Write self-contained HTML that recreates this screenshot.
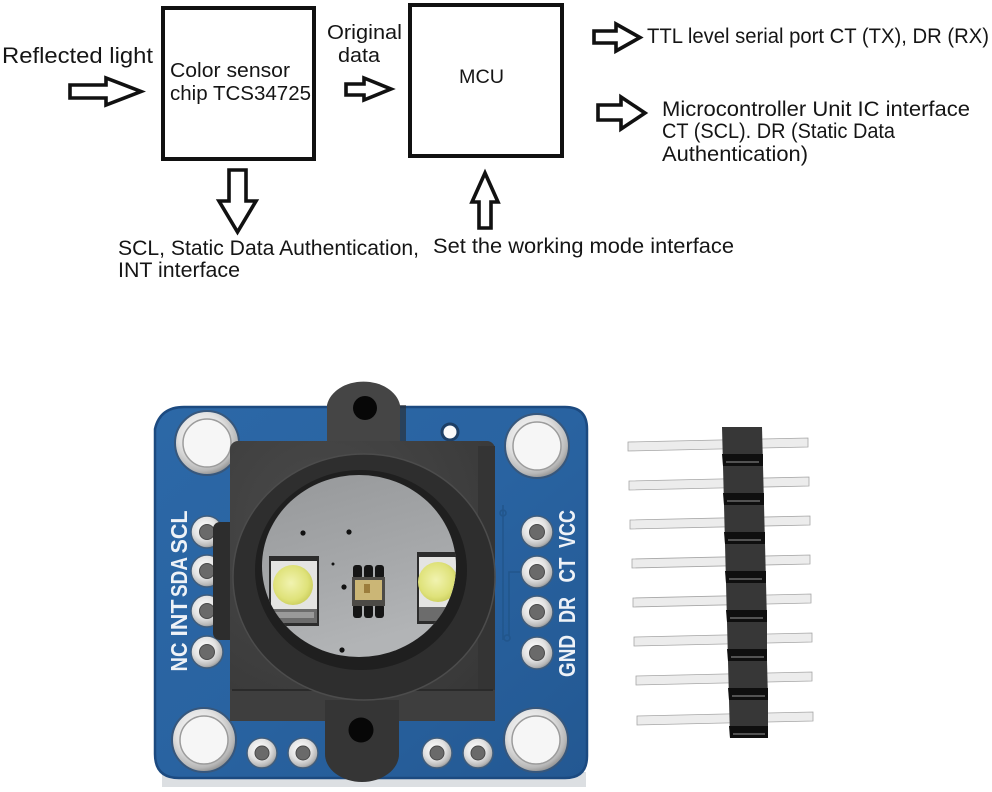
<!DOCTYPE html>
<html>
<head>
<meta charset="utf-8">
<style>
  html,body{margin:0;padding:0;background:#fff;}
  svg{display:block;}
  .t{font-family:"Liberation Sans",sans-serif;fill:#151515;}
  .lb{font-family:"Liberation Sans",sans-serif;font-weight:bold;fill:#eef2f7;font-size:23px;}
</style>
</head>
<body>
<svg width="992" height="792" viewBox="0 0 992 792" xmlns="http://www.w3.org/2000/svg">
  <defs>
    <linearGradient id="board" x1="0" y1="0" x2="1" y2="1">
      <stop offset="0" stop-color="#2c68a7"/>
      <stop offset="0.5" stop-color="#2963a1"/>
      <stop offset="1" stop-color="#235892"/>
    </linearGradient>
    <radialGradient id="silv" cx="0.42" cy="0.38" r="0.65">
      <stop offset="0" stop-color="#ffffff"/>
      <stop offset="0.55" stop-color="#e2e2e2"/>
      <stop offset="0.85" stop-color="#b8b8b8"/>
      <stop offset="1" stop-color="#8a8a8a"/>
    </radialGradient>
    <linearGradient id="grey" x1="0" y1="0" x2="0.3" y2="1">
      <stop offset="0" stop-color="#96989a"/>
      <stop offset="0.6" stop-color="#a6a8aa"/>
      <stop offset="1" stop-color="#b2b4b6"/>
    </linearGradient>
    <radialGradient id="yel" cx="0.45" cy="0.45" r="0.6">
      <stop offset="0" stop-color="#f1f3b0"/>
      <stop offset="0.7" stop-color="#dfe27a"/>
      <stop offset="1" stop-color="#c9cc5a"/>
    </radialGradient>
    <radialGradient id="hous" cx="0.35" cy="0.3" r="0.9">
      <stop offset="0" stop-color="#4a4a4a"/>
      <stop offset="1" stop-color="#363636"/>
    </radialGradient>
    <clipPath id="gclip">
      <ellipse cx="359" cy="566" rx="97" ry="91"/>
    </clipPath>
  </defs>

  <!-- ===== Diagram ===== -->
  <g fill="none" stroke="#111" stroke-width="4">
    <rect x="163" y="8" width="151" height="151"/>
    <rect x="410" y="5" width="152" height="151"/>
  </g>
  <g fill="#fff" stroke="#111" stroke-width="3.6" stroke-linejoin="miter">
    <polygon points="70,85 106,85 106,78 141,91.5 106,105 106,98 70,98"/>
    <polygon points="346,84 364,84 364,78 391,89 364,100 364,95 346,95"/>
    <polygon points="229,170 246,170 246,201 256,201 237.5,232 219,201 229,201"/>
    <polygon points="485,173 498,202 491,202 491,228 479,228 479,202 472,202"/>
    <polygon points="594,31 616,31 616,24 640,37.5 616,51 616,43 594,43"/>
    <polygon points="598,105 621,105 621,97 645,113 621,129 621,120 598,120"/>
  </g>

  <text class="t" x="2" y="63" font-size="22" textLength="151" lengthAdjust="spacingAndGlyphs">Reflected light</text>
  <text class="t" x="170" y="77" font-size="20" textLength="120" lengthAdjust="spacingAndGlyphs">Color sensor</text>
  <text class="t" x="170" y="100" font-size="20" textLength="141" lengthAdjust="spacingAndGlyphs">chip TCS34725</text>
  <text class="t" x="327" y="39" font-size="20" textLength="75" lengthAdjust="spacingAndGlyphs">Original</text>
  <text class="t" x="338" y="62" font-size="20" textLength="42" lengthAdjust="spacingAndGlyphs">data</text>
  <text class="t" x="459" y="83" font-size="19" textLength="45" lengthAdjust="spacingAndGlyphs">MCU</text>
  <text class="t" x="118" y="255" font-size="21" textLength="301" lengthAdjust="spacingAndGlyphs">SCL, Static Data Authentication,</text>
  <text class="t" x="118" y="277" font-size="21" textLength="122" lengthAdjust="spacingAndGlyphs">INT interface</text>
  <text class="t" x="433" y="253" font-size="21" textLength="301" lengthAdjust="spacingAndGlyphs">Set the working mode interface</text>
  <text class="t" x="647" y="43" font-size="21" textLength="342" lengthAdjust="spacingAndGlyphs">TTL level serial port CT (TX), DR (RX)</text>
  <text class="t" x="662" y="116" font-size="21" textLength="308" lengthAdjust="spacingAndGlyphs">Microcontroller Unit IC interface</text>
  <text class="t" x="662" y="138" font-size="21" textLength="233" lengthAdjust="spacingAndGlyphs">CT (SCL). DR (Static Data</text>
  <text class="t" x="662" y="161" font-size="21" textLength="146" lengthAdjust="spacingAndGlyphs">Authentication)</text>

  <!-- ===== PCB ===== -->
  <polygon points="162,772 586,772 586,787 162,787" fill="#dcdfe2"/>
  <path d="M184,407 H565 Q587,407 587,429 V756 Q587,778 565,778 H179 Q155,778 155,754 V429 Q160,407 184,407 Z"
        fill="url(#board)" stroke="#1c4a80" stroke-width="2.5"/>

  <!-- traces -->
  <g fill="none" stroke="#22568c" stroke-width="1.6">
    <path d="M522,572 H509 V636"/>
    <path d="M503,505 V640"/>
    <circle cx="507" cy="638" r="3"/>
    <circle cx="503" cy="513" r="3"/>
  </g>

  <!-- big mounting holes -->
  <g>
    <circle cx="207" cy="443" r="32" fill="url(#silv)" stroke="#37577c" stroke-width="2"/>
    <circle cx="207" cy="443" r="24" fill="#f6f6f6" stroke="#9c9c9c" stroke-width="1.5"/>
    <circle cx="537" cy="446" r="32" fill="url(#silv)" stroke="#37577c" stroke-width="2"/>
    <circle cx="537" cy="446" r="24" fill="#f6f6f6" stroke="#9c9c9c" stroke-width="1.5"/>
    <circle cx="204" cy="740" r="32" fill="url(#silv)" stroke="#37577c" stroke-width="2"/>
    <circle cx="204" cy="740" r="24" fill="#f6f6f6" stroke="#9c9c9c" stroke-width="1.5"/>
    <circle cx="536" cy="740" r="32" fill="url(#silv)" stroke="#37577c" stroke-width="2"/>
    <circle cx="536" cy="740" r="24" fill="#f6f6f6" stroke="#9c9c9c" stroke-width="1.5"/>
  </g>

  <!-- small pin holes -->
  <g stroke="#3f5d7d" stroke-width="1.5">
    <circle cx="207" cy="532" r="16" fill="url(#silv)"/>
    <circle cx="207" cy="571" r="16" fill="url(#silv)"/>
    <circle cx="207" cy="611" r="16" fill="url(#silv)"/>
    <circle cx="207" cy="652" r="16" fill="url(#silv)"/>
    <circle cx="537" cy="532" r="16" fill="url(#silv)"/>
    <circle cx="537" cy="572" r="16" fill="url(#silv)"/>
    <circle cx="537" cy="612" r="16" fill="url(#silv)"/>
    <circle cx="537" cy="653" r="16" fill="url(#silv)"/>
    <circle cx="262" cy="753" r="15" fill="url(#silv)"/>
    <circle cx="303" cy="753" r="15" fill="url(#silv)"/>
    <circle cx="437" cy="753" r="15" fill="url(#silv)"/>
    <circle cx="478" cy="753" r="15" fill="url(#silv)"/>
  </g>
  <g fill="#6a6a6a" stroke="#4a4a4a" stroke-width="1">
    <circle cx="207" cy="532" r="7.5"/>
    <circle cx="207" cy="571" r="7.5"/>
    <circle cx="207" cy="611" r="7.5"/>
    <circle cx="207" cy="652" r="7.5"/>
    <circle cx="537" cy="532" r="7.5"/>
    <circle cx="537" cy="572" r="7.5"/>
    <circle cx="537" cy="612" r="7.5"/>
    <circle cx="537" cy="653" r="7.5"/>
    <circle cx="262" cy="753" r="7"/>
    <circle cx="303" cy="753" r="7"/>
    <circle cx="437" cy="753" r="7"/>
    <circle cx="478" cy="753" r="7"/>
  </g>
  <circle cx="450" cy="432" r="9.5" fill="#1d3f66"/>
  <circle cx="450" cy="432" r="6.5" fill="#fafafa"/>

  <!-- labels -->
  <text class="lb" text-anchor="middle" transform="translate(187,532) rotate(-90)" textLength="43" lengthAdjust="spacingAndGlyphs">SCL</text>
  <text class="lb" text-anchor="middle" transform="translate(187,577) rotate(-90)" textLength="40" lengthAdjust="spacingAndGlyphs">SDA</text>
  <text class="lb" text-anchor="middle" transform="translate(187,618) rotate(-90)" textLength="37" lengthAdjust="spacingAndGlyphs">INT</text>
  <text class="lb" text-anchor="middle" transform="translate(187,657) rotate(-90)" textLength="29" lengthAdjust="spacingAndGlyphs">NC</text>
  <text class="lb" text-anchor="middle" transform="translate(575,529) rotate(-90)" textLength="38" lengthAdjust="spacingAndGlyphs">VCC</text>
  <text class="lb" text-anchor="middle" transform="translate(575,570) rotate(-90)" textLength="25" lengthAdjust="spacingAndGlyphs">CT</text>
  <text class="lb" text-anchor="middle" transform="translate(575,610) rotate(-90)" textLength="26" lengthAdjust="spacingAndGlyphs">DR</text>
  <text class="lb" text-anchor="middle" transform="translate(575,656) rotate(-90)" textLength="42" lengthAdjust="spacingAndGlyphs">GND</text>

  <!-- housing -->
  <rect x="213" y="522" width="24" height="118" rx="7" fill="#2d2d2d"/>
  <rect x="396" y="405" width="10" height="40" fill="#2a2a2a" opacity="0.6"/>
  <path d="M327,446 V405 A37,28 0 0 1 400,405 V446 Z" fill="#454545"/>
  <rect x="230" y="441" width="265" height="280" rx="8" fill="url(#hous)"/>
  <rect x="478" y="446" width="17" height="272" fill="#343434"/>
  <rect x="230" y="690" width="265" height="31" fill="#3e3e3e"/>
  <line x1="232" y1="690" x2="493" y2="690" stroke="#2a2a2a" stroke-width="2"/>
  <path d="M325,700 V754 A37,28 0 0 0 399,754 V700 Z" fill="#353535"/>
  <circle cx="365" cy="408" r="12" fill="#070707"/>
  <circle cx="361" cy="730" r="12.5" fill="#070707"/>

  <!-- ring -->
  <ellipse cx="364" cy="577" rx="131" ry="123" fill="#2e2e2e" stroke="#4c4c4c" stroke-width="1.5"/>
  <ellipse cx="361" cy="570" rx="106" ry="100" fill="#1f1f1f"/>
  <ellipse cx="359" cy="566" rx="97" ry="91" fill="url(#grey)"/>

  <g clip-path="url(#gclip)">
    <!-- vias -->
    <g fill="#111">
      <circle cx="303" cy="533" r="2.6"/>
      <circle cx="349" cy="532" r="2.6"/>
      <circle cx="344" cy="587" r="2.6"/>
      <circle cx="342" cy="650" r="2.6"/>
      <circle cx="333" cy="564" r="1.5"/>
    </g>
    <!-- left LED -->
    <rect x="269" y="556" width="50" height="70" fill="#2c2c2c"/>
    <rect x="271" y="561" width="46" height="48" fill="#e4e4e2"/>
    <rect x="271" y="609" width="46" height="14" fill="#6c6c6c"/>
    <rect x="274" y="612" width="40" height="6" fill="#9a9a9a"/>
    <circle cx="293" cy="585" r="20" fill="url(#yel)"/>
    <!-- right LED -->
    <rect x="417" y="552" width="40" height="72" fill="#2c2c2c"/>
    <rect x="419" y="557" width="38" height="50" fill="#e4e4e2"/>
    <rect x="419" y="607" width="38" height="14" fill="#6c6c6c"/>
    <circle cx="438" cy="582" r="20" fill="url(#yel)"/>
    <!-- sensor chip -->
    <g fill="#151515">
      <rect x="353" y="565" width="9" height="14" rx="3"/>
      <rect x="364" y="565" width="9" height="14" rx="3"/>
      <rect x="375" y="565" width="9" height="14" rx="3"/>
      <rect x="353" y="604" width="9" height="14" rx="3"/>
      <rect x="364" y="604" width="9" height="14" rx="3"/>
      <rect x="375" y="604" width="9" height="14" rx="3"/>
    </g>
    <rect x="352" y="577" width="33" height="29" fill="#4c4a46"/>
    <rect x="355" y="580" width="27" height="20" fill="#cbb676"/>
    <rect x="364" y="584" width="6" height="9" fill="#9c7d3c"/>
  </g>

  <!-- ===== Pin header ===== -->
  <g>
    <polygon points="628,442 808,438 808,447 628,451" fill="#ececec" stroke="#a6a6a6" stroke-width="0.8"/>
    <polygon points="629,481 809,477 809,486 629,490" fill="#ececec" stroke="#a6a6a6" stroke-width="0.8"/>
    <polygon points="630,520 810,516 810,525 630,529" fill="#ececec" stroke="#a6a6a6" stroke-width="0.8"/>
    <polygon points="632,559 810,555 810,564 632,568" fill="#ececec" stroke="#a6a6a6" stroke-width="0.8"/>
    <polygon points="633,598 811,594 811,603 633,607" fill="#ececec" stroke="#a6a6a6" stroke-width="0.8"/>
    <polygon points="634,637 812,633 812,642 634,646" fill="#ececec" stroke="#a6a6a6" stroke-width="0.8"/>
    <polygon points="636,676 812,672 812,681 636,685" fill="#ececec" stroke="#a6a6a6" stroke-width="0.8"/>
    <polygon points="637,716 813,712 813,721 637,725" fill="#ececec" stroke="#a6a6a6" stroke-width="0.8"/>
  </g>
  <g>
    <polygon points="722,427 762,427 763,466 723,466" fill="#373737"/>
    <polygon points="722,454 763,454 763,466 723,466" fill="#0f0f0f"/>
    <line x1="726" y1="462" x2="759" y2="462" stroke="#6a6a6a" stroke-width="1.5"/>

    <polygon points="723,466 763,466 764,505 724,505" fill="#373737"/>
    <polygon points="723,493 764,493 764,505 724,505" fill="#0f0f0f"/>
    <line x1="727" y1="501" x2="760" y2="501" stroke="#6a6a6a" stroke-width="1.5"/>

    <polygon points="724,505 764,505 765,544 725,544" fill="#373737"/>
    <polygon points="724,532 765,532 765,544 725,544" fill="#0f0f0f"/>
    <line x1="728" y1="540" x2="761" y2="540" stroke="#6a6a6a" stroke-width="1.5"/>

    <polygon points="725,544 765,544 766,583 726,583" fill="#373737"/>
    <polygon points="725,571 766,571 766,583 726,583" fill="#0f0f0f"/>
    <line x1="729" y1="579" x2="762" y2="579" stroke="#6a6a6a" stroke-width="1.5"/>

    <polygon points="726,583 766,583 767,622 727,622" fill="#373737"/>
    <polygon points="726,610 767,610 767,622 727,622" fill="#0f0f0f"/>
    <line x1="730" y1="618" x2="763" y2="618" stroke="#6a6a6a" stroke-width="1.5"/>

    <polygon points="727,622 767,622 767,661 728,661" fill="#373737"/>
    <polygon points="727,649 767,649 767,661 728,661" fill="#0f0f0f"/>
    <line x1="731" y1="657" x2="764" y2="657" stroke="#6a6a6a" stroke-width="1.5"/>

    <polygon points="728,661 767,661 768,700 729,700" fill="#373737"/>
    <polygon points="728,688 768,688 768,700 729,700" fill="#0f0f0f"/>
    <line x1="732" y1="696" x2="765" y2="696" stroke="#6a6a6a" stroke-width="1.5"/>

    <polygon points="729,700 768,700 768,738 730,738" fill="#373737"/>
    <polygon points="729,726 768,726 768,738 730,738" fill="#0f0f0f"/>
    <line x1="733" y1="734" x2="765" y2="734" stroke="#6a6a6a" stroke-width="1.5"/>
  </g>
</svg>
</body>
</html>
